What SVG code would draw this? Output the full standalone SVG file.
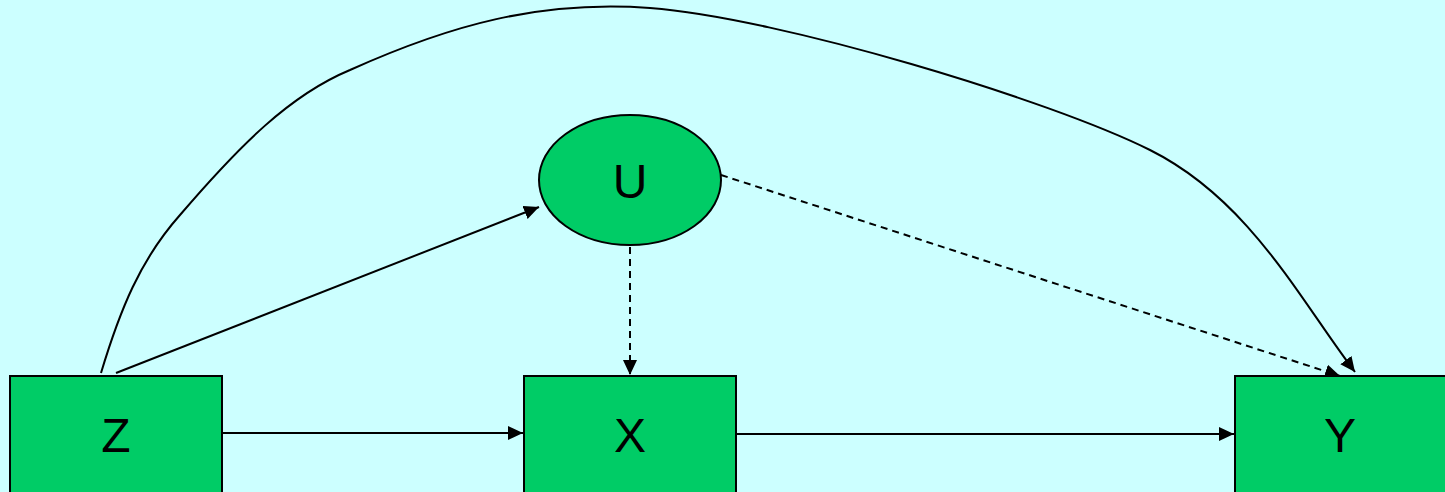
<svg xmlns="http://www.w3.org/2000/svg" width="1445" height="492" viewBox="0 0 1445 492">
<defs>
<marker id="ah" markerWidth="15" markerHeight="14" refX="15" refY="7" orient="auto" markerUnits="userSpaceOnUse">
<path d="M0,0 L15,7 L0,14 Z" fill="#000"/>
</marker>
<style>
.node{fill:#00CC66;stroke:#000;stroke-width:2}
.lbl{font-family:"Liberation Sans",Arial,sans-serif;font-size:48px;fill:#000;text-anchor:middle}
.e{fill:none;stroke:#000;stroke-width:2;marker-end:url(#ah)}
.d{stroke-dasharray:7,5}
</style>
</defs>
<rect width="1445" height="492" fill="#CCFFFF"/>
<g id="connectors">
<path class="e" d="M101,373 C120,310 140,260 180,215 C240,145 290,95 350,70 C450,25 540,0 650,8 C780,18 1050,100 1150,150 C1250,200 1300,300 1355,372"/>
<line class="e" x1="116" y1="373" x2="539" y2="207"/>
<line class="e d" x1="630" y1="247" x2="630" y2="375"/>
<line class="e d" x1="721" y1="175" x2="1340" y2="376"/>
<line class="e" x1="222" y1="433" x2="523" y2="433"/>
<line class="e" x1="736" y1="434" x2="1234" y2="434"/>
</g>
<g id="Z"><rect class="node" x="10" y="376" width="212" height="120"/><text class="lbl" x="116" y="452">Z</text></g>
<g id="X"><rect class="node" x="524" y="376" width="212" height="120"/><text class="lbl" x="630" y="452">X</text></g>
<g id="Y"><rect class="node" x="1235" y="376" width="215" height="120"/><text class="lbl" x="1340" y="452">Y</text></g>
<g id="U"><ellipse class="node" cx="630" cy="180" rx="91" ry="65"/><text class="lbl" x="630" y="198">U</text></g>
</svg>
